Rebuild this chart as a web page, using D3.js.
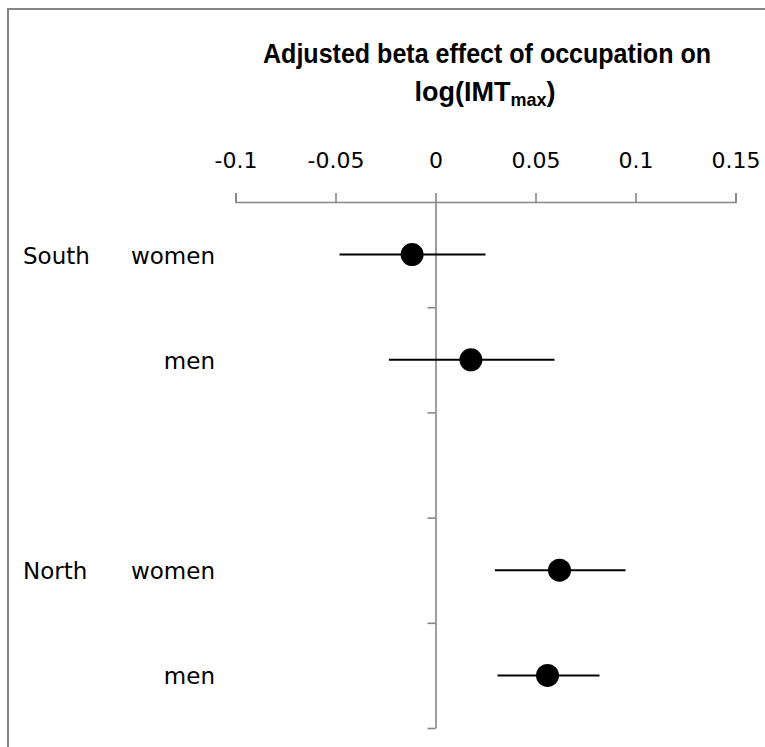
<!DOCTYPE html>
<html>
<head>
<meta charset="utf-8">
<script src="https://cdn.jsdelivr.net/npm/d3@7"></script>
<style>
  html, body { margin: 0; padding: 0; background: #fff; }
  svg { display: block; }
</style>
</head>
<body>
<div id="chart"></div>
<script>
// Forest plot: adjusted beta effect of occupation on log(IMTmax), by region and sex
const regions   = ["South", "", "", "North", ""];
const groups    = ["women", "men", "", "women", "men"];
const estimates = [-0.0117, 0.0177, null, 0.0620, 0.0560];
const lowerCI   = [-0.0480, -0.0233, null, 0.0297, 0.0310];
const upperCI   = [0.0250, 0.0595, null, 0.0950, 0.0820];
const xTicks    = [-0.1, -0.05, 0, 0.05, 0.1, 0.15];

const width = 765, height = 747;
const grey = "#868686";

const svg = d3.select("#chart").append("svg")
  .attr("width", width).attr("height", height);

// chart-area frame (right and bottom edges run past the canvas)
svg.append("rect")
  .attr("x", 8).attr("y", 9)
  .attr("width", 800).attr("height", 800)
  .attr("fill", "none").attr("stroke", grey).attr("stroke-width", 2);

const x = d3.scaleLinear().domain([-0.1, 0.15]).range([235.5, 735.5]);
const y = d3.scaleLinear().domain([0, groups.length]).range([202, 728]);

// title
const title = svg.append("g")
  .attr("font-family", "'Liberation Sans Narrow', 'Liberation Sans', sans-serif")
  .attr("font-weight", "bold").attr("fill", "#000");
title.append("text")
  .attr("x", 487).attr("y", 63).attr("text-anchor", "middle")
  .attr("font-size", 27)
  .attr("textLength", 448).attr("lengthAdjust", "spacingAndGlyphs")
  .text("Adjusted beta effect of occupation on");
const t2 = title.append("text")
  .attr("x", 485).attr("y", 101).attr("text-anchor", "middle")
  .attr("font-size", 27);
t2.append("tspan").text("log(IMT");
t2.append("tspan").attr("font-size", 18).attr("dy", 5).text("max");
t2.append("tspan").attr("dy", -5).text(")");

// value axis along the top
const xAxis = d3.axisTop(x)
  .tickValues(xTicks)
  .tickFormat(d => String(d))
  .tickSize(9).tickSizeOuter(9).tickPadding(25);
const gx = svg.append("g").attr("transform", `translate(0,${y(0)})`).call(xAxis);
gx.select(".domain").attr("stroke", grey).attr("stroke-width", 1.6);
gx.selectAll(".tick line").attr("stroke", grey).attr("stroke-width", 1.6);
gx.selectAll(".tick text")
  .attr("font-family", "'DejaVu Sans', sans-serif")
  .attr("font-size", 22).attr("fill", "#000");

// vertical reference axis at zero with row separators
const yAxis = d3.axisLeft(y)
  .tickValues(d3.range(1, groups.length + 1))
  .tickFormat("")
  .tickSize(8).tickSizeOuter(0);
const gy = svg.append("g").attr("transform", `translate(${x(0)},0)`).call(yAxis);
gy.select(".domain").attr("stroke", grey).attr("stroke-width", 1.6);
gy.selectAll(".tick line").attr("stroke", grey).attr("stroke-width", 1.6);

const rows = groups.map((g, i) => ({
  region: regions[i], group: g, est: estimates[i], lo: lowerCI[i], hi: upperCI[i], i
}));

// row labels
const labels = svg.append("g")
  .attr("font-family", "'DejaVu Sans', sans-serif")
  .attr("font-size", 23).attr("fill", "#000");
labels.selectAll("text.region")
  .data(rows.filter(d => d.region))
  .join("text").attr("class", "region")
  .attr("x", 23).attr("y", d => y(d.i + 0.5) + 9)
  .text(d => d.region);
labels.selectAll("text.group")
  .data(rows.filter(d => d.group))
  .join("text").attr("class", "group")
  .attr("x", 215).attr("y", d => y(d.i + 0.5) + 9)
  .attr("text-anchor", "end")
  .text(d => d.group);

// confidence intervals and point estimates
const est = rows.filter(d => d.est !== null);
svg.append("g").selectAll("line")
  .data(est).join("line")
  .attr("x1", d => x(d.lo)).attr("x2", d => x(d.hi))
  .attr("y1", d => y(d.i + 0.5)).attr("y2", d => y(d.i + 0.5))
  .attr("stroke", "#000").attr("stroke-width", 2);
svg.append("g").selectAll("circle")
  .data(est).join("circle")
  .attr("cx", d => x(d.est)).attr("cy", d => y(d.i + 0.5))
  .attr("r", 11.5).attr("fill", "#000");
</script>
</body>
</html>
